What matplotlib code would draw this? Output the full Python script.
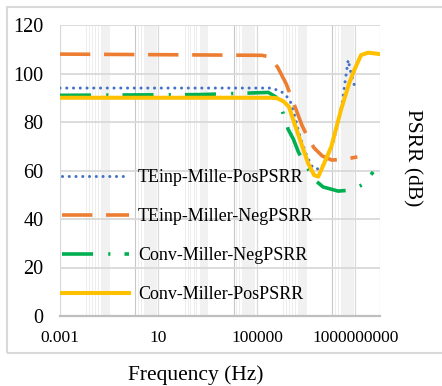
import matplotlib
matplotlib.use("Agg")
import matplotlib.pyplot as plt
from matplotlib.patches import Rectangle

plt.rcParams['font.family'] = ['Liberation Serif', 'DejaVu Serif']

# data (frequency in Hz, PSRR in dB)
f_te_pos = [1e-3, 3.5e5, 6.6e5, 1.2e6, 2.2e6, 3.6e6, 4.7e6, 6.9e6, 1.1e7, 1.9e7,
            3.7e7, 5.9e7, 1.1e8, 1.8e8, 2.9e8, 3.9e8, 5.1e8, 6.2e8, 9e8]
te_pos = [94, 94, 93.2, 92, 89, 81.7, 76.7, 71.3, 65.6, 61,
          60.5, 63.5, 69.7, 78, 87.8, 97.3, 105.6, 101.4, 95.3]

f_te_neg = [1e-3, 1.6e5, 3.5e5, 7.2e5, 1.55e6, 3.2e6, 6.9e6, 1.2e7, 2.1e7, 4.5e7,
            1.1e8, 3.9e8, 1.2e9]
te_neg = [108, 107.5, 106.8, 102.3, 95.7, 87.4, 78.4, 73.4, 69.3, 66,
          64.3, 64.7, 65.6]

f_conv_neg = [1e-3, 4.9e2, 2.9e5, 6.6e5, 1.05e6, 1.85e6, 3e6, 4.9e6, 1e7, 2.3e7,
              4.9e7, 2e8, 8.1e8, 2.1e9, 5.3e9]
conv_neg = [91, 91.3, 92.2, 90, 85, 77, 73, 67.5, 62, 56,
            53.2, 51.5, 52, 54.4, 59.4]

f_conv_pos = [1e-3, 3.5e5, 6.6e5, 1.2e6, 2.0e6, 3.0e6, 6.3e6, 1.2e7, 2.1e7, 3.1e7,
              4.1e7, 1.05e8, 2.6e8, 5.6e8, 9e8, 1.7e9, 3.3e9, 1e10]
conv_pos = [90, 90, 89.8, 88.5, 86.3, 80.8, 71.2, 63, 58.1, 57.5,
            60.2, 69.8, 85, 96, 101.4, 107.6, 108.6, 108]

labels = ['TEinp-Mille-PosPSRR', 'TEinp-Miller-NegPSRR',
          'Conv-Miller-NegPSRR', 'Conv-Miller-PosPSRR']
xticks = [1e-3, 10, 1e5, 1e9]
xtick_labels = ['0.001', '10', '100000', '1000000000']
yticks = [0, 20, 40, 60, 80, 100, 120]

fig = plt.figure(figsize=(4.42, 3.86), dpi=100)
ax = fig.add_axes([60 / 442, 1 - 316 / 386, 320 / 442, 291 / 386])
ax.set_xscale('log')
ax.set_xlim(1e-3, 1e10)
ax.set_ylim(0, 120)

# excel-like vertical gridlines (log axis, base 10000)
for c in [-3, 1, 5]:
    for off in [1.06, 1.18, 1.3, 1.44, 1.54, 3.17, 3.29]:
        ax.axvline(10 ** (c + off), color='#ededed', lw=0.7, zorder=0)
    ax.axvspan(10 ** (c + 1.67), 10 ** (c + 2.03), color='#f1f1f1', lw=0, zorder=0)
    ax.axvspan(10 ** (c + 3.41), 10 ** (c + 3.94), color='#f1f1f1', lw=0, zorder=0)
    ax.axvline(10 ** (c + 3.05), color='#c8c8c8', lw=0.8, zorder=0)
for v in [1e-3, 10, 1e5, 1e9, 1e10]:
    ax.axvline(v, color='#d9d9d9', lw=0.9, zorder=0)
for v in yticks[1:]:
    ax.axhline(v, color='#d9d9d9', lw=1.3, zorder=0)

ax.plot(f_te_pos, te_pos, color='#4472C4', lw=2.2, linestyle=(0, (0.01, 2.2)),
        dash_capstyle='round', label=labels[0], zorder=3)
ax.plot(f_te_neg, te_neg, color='#ED7D31', lw=2.6, linestyle=(0, (8.4, 3.8)),
        label=labels[1], zorder=3)
ax.plot(f_conv_neg, conv_neg, color='#00B050', lw=2.6,
        linestyle=(0, (8.6, 4.2, 0.6, 3.9)), label=labels[2], zorder=3)
ax.plot(f_conv_pos, conv_pos, color='#FFC000', lw=2.9, label=labels[3], zorder=4)

ax.set_xticks(xticks)
ax.set_xticklabels(xtick_labels, fontsize=12.5)
ax.minorticks_off()
ax.set_yticks(yticks)
ax.set_yticklabels([str(v) for v in yticks], fontsize=14.5)
ax.tick_params(axis='both', length=0)
ax.tick_params(axis='y', pad=12)
ax.tick_params(axis='x', pad=10)
for s in ['top', 'right', 'left']:
    ax.spines[s].set_visible(False)
ax.spines['bottom'].set_color('#bfbfbf')
ax.spines['bottom'].set_linewidth(1.6)

ax.legend(loc='upper left', bbox_to_anchor=(0.006, 0.505), frameon=False,
          fontsize=13, handlelength=3.7, handletextpad=0.5, labelspacing=1.22,
          borderpad=0, borderaxespad=0)

fig.text(196 / 442, 1 - 375 / 386, 'Frequency (Hz)', fontsize=15.5,
         ha='center', va='center')
fig.text(412 / 442, 1 - 158 / 386, 'PSRR (dB)', fontsize=15.5, rotation=-90,
         ha='center', va='center')

# outer chart border
fig.patches.append(Rectangle((7 / 442, 1 - 353 / 386), 445 / 442, 346 / 386,
                             transform=fig.transFigure, fill=False,
                             edgecolor='#d9d9d9', lw=1.5))

fig.savefig('out.png', dpi=100)
